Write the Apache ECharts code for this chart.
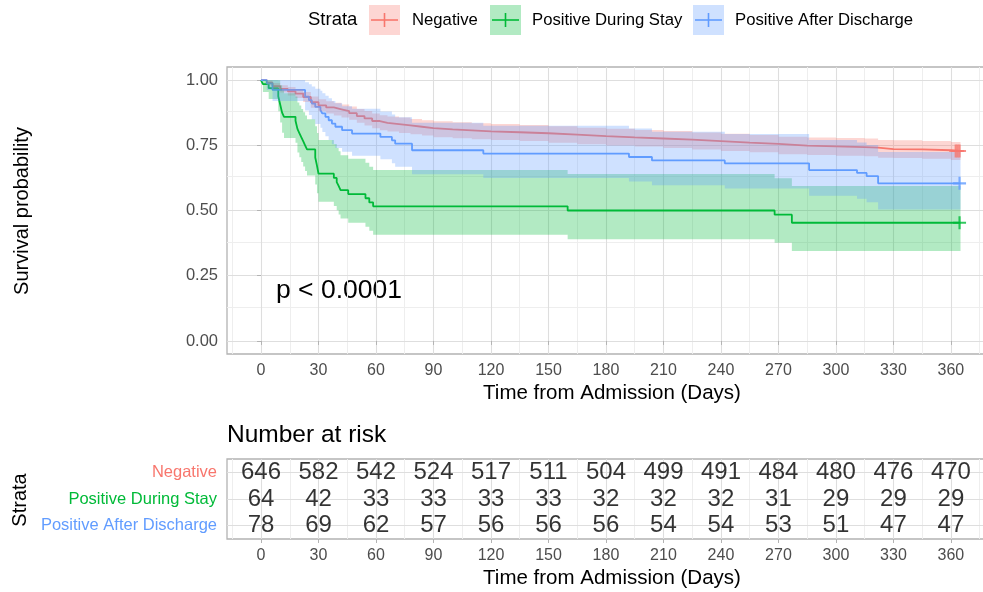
<!DOCTYPE html>
<html><head><meta charset="utf-8">
<script src="https://cdn.jsdelivr.net/npm/echarts@6/dist/echarts.min.js"></script>
<style>html,body{margin:0;padding:0;background:#fff}#c{width:983px;height:592px}</style>
</head><body><div id="c"></div>
<script>
// ---------------- data ----------------
const strata = ['Negative', 'Positive During Stay', 'Positive After Discharge'];
const colors = ['#F8766D', '#00BA38', '#619CFF'];

// Negative: KM estimate and 95% CI
const negT  = [0,3,6,10,14,18,22,26,30,34,38,42,46,50,54,58,62,66,72,78,84,90,100,110,120,135,150,165,180,195,210,225,240,255,270,285,300,315,322,330,345,360,365];
const negS  = [1,0.99,0.977,0.966,0.957,0.948,0.935,0.915,0.903,0.895,0.888,0.881,0.873,0.862,0.853,0.843,0.836,0.831,0.826,0.821,0.816,0.811,0.807,0.803,0.8,0.796,0.791,0.785,0.78,0.776,0.772,0.766,0.76,0.755,0.749,0.746,0.743,0.741,0.735,0.734,0.731,0.728,0.728];
const negLo = [1,0.982,0.966,0.952,0.941,0.931,0.916,0.894,0.88,0.872,0.864,0.856,0.848,0.836,0.826,0.815,0.808,0.803,0.797,0.792,0.787,0.781,0.777,0.773,0.77,0.766,0.76,0.754,0.749,0.745,0.74,0.734,0.728,0.723,0.716,0.713,0.71,0.708,0.702,0.701,0.698,0.694,0.694];
const negHi = [1,0.998,0.989,0.98,0.973,0.965,0.954,0.937,0.926,0.919,0.913,0.906,0.899,0.889,0.881,0.872,0.865,0.86,0.856,0.851,0.846,0.842,0.838,0.834,0.832,0.828,0.823,0.817,0.813,0.809,0.805,0.799,0.794,0.789,0.783,0.78,0.778,0.776,0.77,0.769,0.766,0.763,0.763];

// Positive During Stay
const durT  = [0,1,4,9,10,11,12,18,19,20,21,22,23,24,28.3,29.2,30,38,39.5,40.5,41.5,45.5,54.5,56.5,58.5,160,268,277,365];
const durS  = [1,0.984,0.969,0.938,0.906,0.875,0.859,0.844,0.813,0.797,0.781,0.766,0.75,0.734,0.703,0.672,0.641,0.625,0.609,0.594,0.578,0.563,0.547,0.531,0.516,0.5,0.484,0.453,0.453];
const durLo = [1,0.954,0.927,0.88,0.837,0.798,0.778,0.76,0.722,0.704,0.686,0.669,0.651,0.634,0.6,0.566,0.534,0.517,0.501,0.485,0.469,0.453,0.438,0.422,0.407,0.39,0.376,0.345,0.345];
const durHi = [1,1,1,0.999,0.98,0.96,0.949,0.937,0.914,0.902,0.889,0.877,0.864,0.85,0.823,0.797,0.77,0.755,0.74,0.727,0.712,0.698,0.683,0.668,0.655,0.64,0.624,0.594,0.594];

// Positive After Discharge
const aftT  = [0,3,6,23,25,26.5,28.3,31,32,33.6,35.3,37,38.8,42.3,47.5,62.3,68.3,70,78.8,116,192,204,242,286,311,316,322,365];
const aftS  = [1,0.987,0.962,0.936,0.923,0.91,0.897,0.885,0.872,0.859,0.846,0.833,0.821,0.808,0.795,0.782,0.769,0.756,0.731,0.718,0.705,0.692,0.681,0.655,0.644,0.632,0.604,0.604];
const aftLo = [1,0.962,0.92,0.883,0.866,0.849,0.832,0.817,0.801,0.785,0.77,0.754,0.74,0.725,0.71,0.696,0.681,0.668,0.639,0.625,0.611,0.597,0.584,0.557,0.545,0.532,0.504,0.504];
const aftHi = [1,1,1,0.992,0.984,0.975,0.967,0.959,0.949,0.94,0.93,0.92,0.911,0.9,0.89,0.879,0.868,0.857,0.836,0.825,0.814,0.802,0.793,0.77,0.761,0.751,0.724,0.724];

// censored marks
const censNeg = [[362.5,0.728],[363.5,0.728],[364.5,0.728]];
const censDur = [[364.5,0.453]];
const censAft = [[364.5,0.604]];

// number at risk table
const riskTimes = [0,30,60,90,120,150,180,210,240,270,300,330,360];
const riskNeg = [646,582,542,524,517,511,504,499,491,484,480,476,470];
const riskDur = [64,42,33,33,33,33,32,32,32,31,29,29,29];
const riskAft = [78,69,62,57,56,56,56,54,54,53,51,47,47];

// ticks and grid breaks
const xTicks = [0,30,60,90,120,150,180,210,240,270,300,330,360];
const xMinor = [-15,15,45,75,105,135,165,195,225,255,285,315,345,375];
const yTicks = [0,0.25,0.5,0.75,1];
const yMinor = [0.125,0.375,0.625,0.875];

// ---------------- chart ----------------
const FONT = '"Liberation Sans", Arial, Helvetica, sans-serif';
const GREY_TXT = '#4D4D4D';
const MAJ = '#DEDEDE', MIN = '#EEEEEE', BORDER = '#B3B3B3';
const chart = echarts.init(document.getElementById('c'), null, {renderer: 'canvas'});

function zip(t, v) { return t.map((x, i) => [x, v[i]]); }

function kmLine(t, s, color, name) {
  return {type: 'line', name, xAxisIndex: 0, yAxisIndex: 0, data: zip(t, s), step: 'end',
    symbol: 'none', z: 2, silent: true, lineStyle: {color, width: 1.8}, itemStyle: {color}};
}

function band(t, lo, hi, color, name) {
  return {type: 'custom', name, xAxisIndex: 0, yAxisIndex: 0, z: 3, silent: true,
    data: [[t[0], hi[0]]],
    renderItem(params, api) {
      const pts = [];
      const n = t.length;
      for (let i = 0; i < n; i++) {
        const tn = i < n - 1 ? t[i + 1] : t[i];
        pts.push(api.coord([t[i], hi[i]]));
        pts.push(api.coord([tn, hi[i]]));
      }
      for (let i = n - 1; i >= 0; i--) {
        const tn = i < n - 1 ? t[i + 1] : t[i];
        pts.push(api.coord([tn, lo[i]]));
        pts.push(api.coord([t[i], lo[i]]));
      }
      return {type: 'polygon', shape: {points: pts}, style: {fill: color, opacity: 0.3}};
    }};
}

const plusPath = 'path://M0,5H12V7H0Z M5,0H7V12H5Z';
function censor(d, color) {
  return {type: 'scatter', xAxisIndex: 0, yAxisIndex: 0, data: d, symbol: plusPath,
    symbolSize: [13, 13], z: 4, silent: true, itemStyle: {color}};
}

function gridLines(xi, yi, xMaj, xMin, yMaj, yMin) {
  const d = [];
  xMin.forEach(v => d.push({xAxis: v, lineStyle: {color: MIN, width: 1, type: 'solid'}}));
  yMin.forEach(v => d.push({yAxis: v, lineStyle: {color: MIN, width: 1, type: 'solid'}}));
  xMaj.forEach(v => d.push({xAxis: v, lineStyle: {color: MAJ, width: 1.1, type: 'solid'}}));
  yMaj.forEach(v => d.push({yAxis: v, lineStyle: {color: MAJ, width: 1.1, type: 'solid'}}));
  return {type: 'scatter', xAxisIndex: xi, yAxisIndex: yi, data: [], symbolSize: 0, z: 0, silent: true,
    markLine: {z: 0, zlevel: 0, silent: true, symbol: ['none', 'none'], label: {show: false}, animation: false,
      lineStyle: {type: 'solid'}, emphasis: {disabled: true}, data: d}};
}

function riskSeries(arr, name) {
  return {type: 'scatter', xAxisIndex: 1, yAxisIndex: 1, symbolSize: 1, silent: true, z: 3,
    itemStyle: {color: 'rgba(0,0,0,0)'},
    data: riskTimes.map((t, i) => [t, name, arr[i]]),
    label: {show: true, position: 'inside', formatter: p => String(p.value[2]),
      color: '#000', fontSize: 24, fontFamily: FONT}};
}

const axisTickStyle = {show: true, length: 4, lineStyle: {color: BORDER, width: 1}};

function text(x, y, s, size, opts) {
  return {type: 'text', x, y, silent: true,
    style: Object.assign({text: s, fontSize: size, fontFamily: FONT, fill: '#000',
      align: 'left', verticalAlign: 'middle', textAlign: 'left', textVerticalAlign: 'middle'}, opts || {})};
}

const legendKeys = [[369, 412], [490, 532], [693, 735]];
const graphics = [];
graphics.push(text(308, 20, 'Strata', 18.5));
legendKeys.forEach((k, i) => {
  const x0 = k[0];
  graphics.push({type: 'rect', silent: true, shape: {x: x0, y: 5, width: 31, height: 30},
    style: {fill: colors[i], opacity: 0.3}});
  graphics.push({type: 'line', silent: true, shape: {x1: x0 + 2, y1: 20, x2: x0 + 29, y2: 20},
    style: {stroke: colors[i], lineWidth: 1.6}});
  graphics.push({type: 'line', silent: true, shape: {x1: x0 + 15.5, y1: 13, x2: x0 + 15.5, y2: 27},
    style: {stroke: colors[i], lineWidth: 1.6}});
  graphics.push(text(k[1], 20, strata[i], 16.7));
});
graphics.push(Object.assign(text(22, 211, 'Survival probability', 20, {align: 'center', textAlign: 'center'}), {rotation: Math.PI / 2}));
graphics.push(text(612, 393, 'Time from Admission (Days)', 20.5, {align: 'center', textAlign: 'center'}));
graphics.push(text(276, 291, 'p < 0.0001', 26.5));
graphics.push(text(227, 435, 'Number at risk', 24.5));
graphics.push(Object.assign(text(20, 500, 'Strata', 20, {align: 'center', textAlign: 'center'}), {rotation: Math.PI / 2}));
graphics.push(text(612, 578, 'Time from Admission (Days)', 20.5, {align: 'center', textAlign: 'center'}));

const xAxisCommon = {
  type: 'value', min: -17.75, max: 383,
  axisLine: {show: false}, splitLine: {show: false},
  axisTick: Object.assign({customValues: xTicks}, axisTickStyle),
  axisLabel: {customValues: xTicks, color: GREY_TXT, fontSize: 16, fontFamily: FONT, margin: 9}
};

const option = {
  animation: false,
  backgroundColor: '#ffffff',
  grid: [
    {left: 227, top: 67, width: 768, height: 287, show: true, borderColor: BORDER, borderWidth: 1.3,
      backgroundColor: 'rgba(0,0,0,0)', containLabel: false, outerBoundsMode: 'none'},
    {left: 227, top: 459, width: 768, height: 80, show: true, borderColor: BORDER, borderWidth: 1.3,
      backgroundColor: 'rgba(0,0,0,0)', containLabel: false, outerBoundsMode: 'none'}
  ],
  xAxis: [
    Object.assign({gridIndex: 0}, xAxisCommon),
    Object.assign({gridIndex: 1}, xAxisCommon)
  ],
  yAxis: [
    {type: 'value', gridIndex: 0, min: -0.05, max: 1.05,
      axisLine: {show: false}, splitLine: {show: false},
      axisTick: Object.assign({customValues: yTicks}, axisTickStyle),
      axisLabel: {customValues: yTicks, formatter: v => Number(v).toFixed(2), color: GREY_TXT,
        fontSize: 16.5, fontFamily: FONT, margin: 9}},
    {type: 'category', gridIndex: 1, data: strata, inverse: true,
      axisLine: {show: false}, splitLine: {show: false},
      axisTick: Object.assign({alignWithLabel: true}, axisTickStyle),
      axisLabel: {color: (v) => colors[strata.indexOf(v)], fontSize: 16.5, fontFamily: FONT, margin: 10}}
  ],
  graphic: {elements: graphics},
  series: [
    gridLines(0, 0, xTicks, xMinor, yTicks, yMinor),
    gridLines(1, 1, xTicks, xMinor, strata, []),
    kmLine(negT, negS, colors[0], strata[0]),
    kmLine(durT, durS, colors[1], strata[1]),
    kmLine(aftT, aftS, colors[2], strata[2]),
    band(negT, negLo, negHi, colors[0], strata[0] + ' CI'),
    band(durT, durLo, durHi, colors[1], strata[1] + ' CI'),
    band(aftT, aftLo, aftHi, colors[2], strata[2] + ' CI'),
    censor(censNeg, colors[0]),
    censor(censDur, colors[1]),
    censor(censAft, colors[2]),
    riskSeries(riskNeg, strata[0]),
    riskSeries(riskDur, strata[1]),
    riskSeries(riskAft, strata[2])
  ]
};
chart.setOption(option);
</script></body></html>
